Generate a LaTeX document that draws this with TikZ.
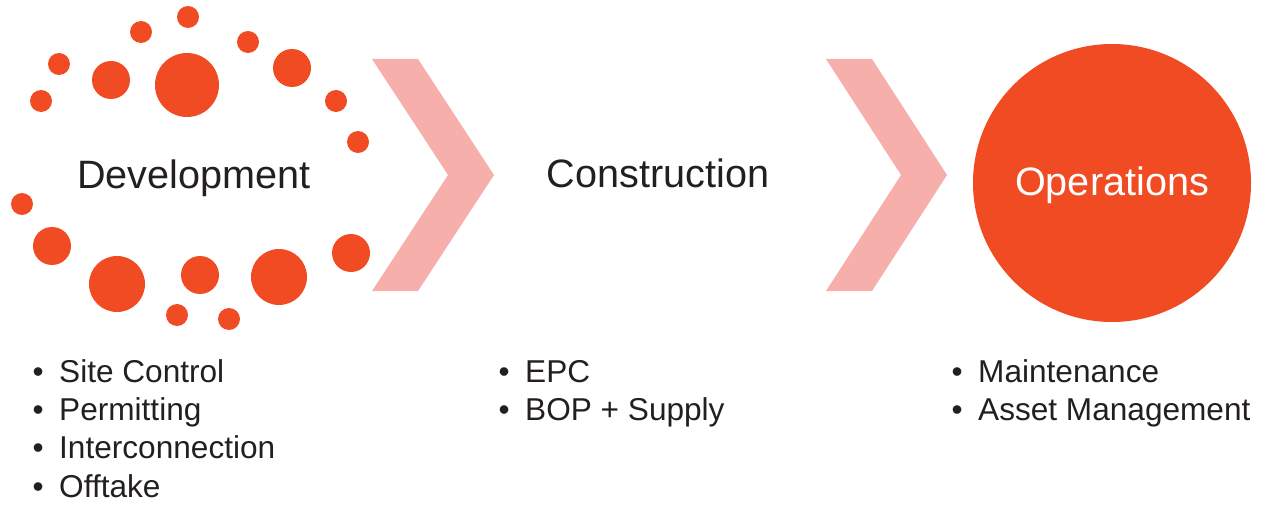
\documentclass[tikz,border=0pt]{standalone}
\usepackage{fontspec}
\setmainfont{Liberation Sans}
\definecolor{dotorange}{HTML}{F04B23}
\definecolor{chevpink}{HTML}{F7AFAC}
\definecolor{txt}{HTML}{231F20}
\begin{document}
\begin{tikzpicture}[x=1pt,y=-1pt,
  big/.style={inner sep=0pt,text=txt,font=\fontsize{39.6}{47}\selectfont},
  item/.style={inner sep=0pt,text=txt,anchor=base west,font=\fontsize{31.6}{37}\selectfont},
  dot/.style={fill=dotorange},
  chev/.style={fill=chevpink}]
\useasboundingbox (0,0) rectangle (1263,505);
% dots
\foreach \x/\y/\r in {188/17/11, 141/32/11, 248/42/11, 59/64/11, 111/80/19, 187/85/32,
  292/68/19, 41/101/11, 336/101/11, 358/142/11, 22/204/11, 52/246/19, 117/284/28,
  200/275/19, 279/277/28, 351/253/19, 177/315/11, 229/319/11}
  \fill[dot] (\x,\y) circle[radius=\r];
% chevrons
\fill[chev] (372,59) -- (418,59) -- (494,175) -- (418,291) -- (372,291) -- (448,175) -- cycle;
\fill[chev] (826,59) -- (872,59) -- (947,175) -- (872,291) -- (826,291) -- (901,175) -- cycle;
% operations circle
\fill[dotorange] (1112,183) circle[radius=139];
% titles
\node[big,anchor=base] (dev) at (194,189) {Development};
\node[big,anchor=base] (con) at (658,188) {Construction};
\node[big,anchor=base,text=white] (ops) at (1112,196) {Operations};
% bullets
\foreach \n/\t/\yy in {d1/Site Control/382, d2/Permitting/420, d3/Interconnection/458, d4/Offtake/497}{
  \node[item] (\n) at (59,\yy) {\t};
  \node[item,anchor=base east] at (44,\yy) {•};
}
\foreach \n/\t/\yy in {c1/EPC/382, c2/BOP + Supply/420}{
  \node[item] (\n) at (525,\yy) {\t};
  \node[item,anchor=base east] at (510,\yy) {•};
}
\foreach \n/\t/\yy in {o1/Maintenance/382, o2/Asset Management/420}{
  \node[item] (\n) at (978,\yy) {\t};
  \node[item,anchor=base east] at (963,\yy) {•};
}
\end{tikzpicture}
\end{document}
